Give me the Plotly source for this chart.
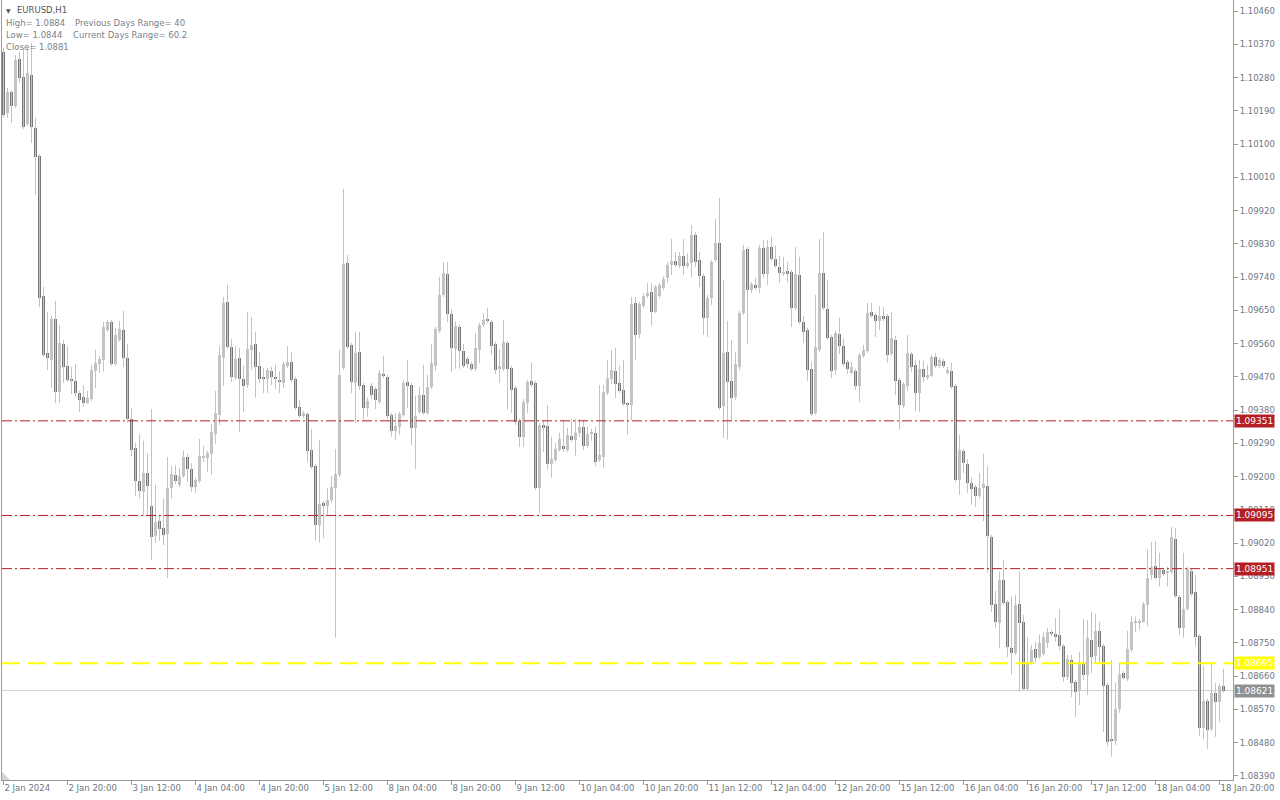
import plotly.graph_objects as go

# ---------------- data (EURUSD H1, bars from 2 Jan 2024 04:00) ----------------
open_ = [
1.10349,1.10184,1.10241,1.10203,1.10330,1.10282,1.10154,1.10287,1.10144,1.10068,
1.09689,1.09535,1.09516,1.09627,1.09429,1.09559,1.09500,1.09462,1.09459,1.09426,
1.09416,1.09400,1.09410,1.09486,1.09505,1.09516,1.09597,1.09619,1.09505,1.09570,
1.09597,1.09521,1.09356,1.09278,1.09188,1.09159,1.09210,1.09121,1.09040,1.09080,
1.09061,1.09045,1.09170,1.09205,1.09178,1.09202,1.09253,1.09221,1.09172,1.09188,
1.09253,1.09251,1.09262,1.09316,1.09367,1.09521,1.09673,1.09551,1.09467,1.09521,
1.09465,1.09448,1.09543,1.09559,1.09500,1.09467,1.09465,1.09486,1.09470,1.09462,
1.09454,1.09500,1.09511,1.09465,1.09389,1.09364,1.09370,1.09272,1.09229,1.09069,
1.09129,1.09121,1.09137,1.09170,1.09205,1.09494,1.09778,1.09556,1.09454,1.09538,
1.09448,1.09386,1.09446,1.09437,1.09402,1.09478,1.09470,1.09367,1.09324,1.09335,
1.09367,1.09456,1.09448,1.09332,1.09375,1.09421,1.09372,1.09443,1.09500,1.09595,
1.09692,1.09749,1.09640,1.09546,1.09605,1.09540,1.09519,1.09505,1.09492,1.09543,
1.09611,1.09627,1.09619,1.09559,1.09492,1.09492,1.09562,1.09494,1.09440,1.09351,
1.09308,1.09400,1.09459,1.09454,1.09170,1.09340,1.09337,1.09234,1.09245,1.09272,
1.09283,1.09272,1.09310,1.09300,1.09319,1.09335,1.09283,1.09316,1.09319,1.09245,
1.09253,1.09427,1.09465,1.09486,1.09454,1.09435,1.09397,1.09394,1.09670,1.09586,
1.09662,1.09689,1.09700,1.09646,1.09689,1.09711,1.09738,1.09773,1.09784,1.09770,
1.09797,1.09770,1.09778,1.09854,1.09786,1.09743,1.09630,1.09684,1.09786,1.09832,
1.09391,1.09538,1.09459,1.09416,1.09497,1.09643,1.09816,1.09705,1.09719,1.09711,
1.09819,1.09749,1.09822,1.09789,1.09768,1.09749,1.09757,1.09754,1.09657,1.09746,
1.09619,1.09597,1.09492,1.09372,1.09543,1.09751,1.09654,1.09578,1.09489,1.09586,
1.09554,1.09511,1.09481,1.09486,1.09446,1.09527,1.09540,1.09646,1.09638,1.09621,
1.09635,1.09635,1.09532,1.09570,1.09462,1.09391,1.09446,1.09532,1.09503,1.09426,
1.09492,1.09467,1.09473,1.09524,1.09500,1.09513,1.09481,1.09486,1.09446,1.09191,
1.09270,1.09234,1.09183,1.09172,1.09148,1.09170,1.09175,1.09037,1.08856,1.08805,
1.08921,1.08861,1.08737,1.08723,1.08856,1.08807,1.08626,1.08696,1.08734,1.08712,
1.08720,1.08750,1.08780,1.08774,1.08772,1.08742,1.08658,1.08704,1.08645,1.08623,
1.08696,1.08664,1.08758,1.08715,1.08783,1.08742,1.08637,1.08490,1.08485,1.08572,
1.08669,1.08653,1.08731,1.08805,1.08805,1.08807,1.08853,1.08934,1.08958,1.08926,
1.08948,1.08940,1.08942,1.09031,1.08875,1.08791,1.08842,1.08945,1.08888,1.08769,
1.08520,1.08593,1.08517,1.08615,1.08590,1.08634]

high = [
1.10360,1.10252,1.10247,1.10341,1.10349,1.10360,1.10363,1.10374,1.10171,1.10073,
1.09713,1.09646,1.09635,1.09676,1.09611,1.09570,1.09554,1.09497,1.09505,1.09432,
1.09448,1.09432,1.09502,1.09543,1.09527,1.09619,1.09624,1.09624,1.09603,1.09621,
1.09649,1.09559,1.09386,1.09291,1.09316,1.09297,1.09262,1.09383,1.09178,1.09097,
1.09142,1.09253,1.09229,1.09232,1.09224,1.09270,1.09262,1.09237,1.09197,1.09302,
1.09283,1.09270,1.09343,1.09432,1.09554,1.09686,1.09719,1.09573,1.09554,1.09548,
1.09500,1.09646,1.09632,1.09592,1.09538,1.09494,1.09494,1.09497,1.09503,1.09486,
1.09511,1.09554,1.09538,1.09470,1.09408,1.09378,1.09375,1.09329,1.09234,1.09299,
1.09134,1.09170,1.09202,1.09275,1.09543,1.09979,1.09800,1.09562,1.09592,1.09592,
1.09454,1.09413,1.09454,1.09443,1.09489,1.09527,1.09476,1.09372,1.09372,1.09375,
1.09462,1.09516,1.09454,1.09419,1.09443,1.09503,1.09476,1.09559,1.09605,1.09740,
1.09781,1.09781,1.09654,1.09621,1.09611,1.09559,1.09524,1.09511,1.09589,1.09616,
1.09643,1.09657,1.09624,1.09565,1.09546,1.09624,1.09567,1.09500,1.09446,1.09356,
1.09410,1.09462,1.09508,1.09459,1.09345,1.09353,1.09394,1.09308,1.09291,1.09319,
1.09353,1.09332,1.09356,1.09356,1.09356,1.09353,1.09335,1.09329,1.09335,1.09448,
1.09448,1.09516,1.09543,1.09549,1.09500,1.09516,1.09402,1.09686,1.09686,1.09673,
1.09697,1.09724,1.09724,1.09719,1.09724,1.09743,1.09781,1.09843,1.09808,1.09808,
1.09843,1.09805,1.09881,1.09862,1.09808,1.09749,1.09692,1.09786,1.09897,1.09954,
1.09732,1.09621,1.09570,1.09538,1.09649,1.09827,1.09822,1.09727,1.09738,1.09827,
1.09841,1.09841,1.09849,1.09824,1.09797,1.09795,1.09781,1.09759,1.09822,1.09795,
1.09635,1.09603,1.09511,1.09692,1.09843,1.09862,1.09732,1.09584,1.09595,1.09630,
1.09575,1.09516,1.09511,1.09492,1.09535,1.09557,1.09670,1.09670,1.09643,1.09662,
1.09659,1.09640,1.09646,1.09581,1.09467,1.09456,1.09584,1.09538,1.09516,1.09516,
1.09516,1.09503,1.09529,1.09535,1.09521,1.09519,1.09497,1.09508,1.09451,1.09313,
1.09275,1.09248,1.09197,1.09178,1.09210,1.09262,1.09229,1.09042,1.08891,1.08943,
1.08975,1.08866,1.08875,1.08880,1.08943,1.08826,1.08766,1.08745,1.08753,1.08772,
1.08780,1.08791,1.08785,1.08818,1.08842,1.08747,1.08718,1.08718,1.08650,1.08726,
1.08815,1.08812,1.08834,1.08829,1.08807,1.08747,1.08642,1.08704,1.08642,1.08696,
1.08674,1.08783,1.08823,1.08821,1.08815,1.08861,1.09004,1.09023,1.09026,1.08994,
1.08953,1.08956,1.09064,1.09061,1.08880,1.08994,1.08956,1.08953,1.08934,1.08774,
1.08688,1.08599,1.08696,1.08642,1.08639,1.08680]

low = [
1.10171,1.10171,1.10157,1.10198,1.10265,1.10141,1.10149,1.10103,1.09962,1.09659,
1.09524,1.09489,1.09440,1.09399,1.09399,1.09454,1.09456,1.09424,1.09416,1.09375,
1.09389,1.09397,1.09405,1.09440,1.09481,1.09484,1.09592,1.09500,1.09500,1.09565,
1.09497,1.09345,1.09256,1.09148,1.09142,1.09094,1.09094,1.08975,1.09021,1.09026,
1.09015,1.08926,1.09142,1.09180,1.09172,1.09197,1.09186,1.09159,1.09156,1.09183,
1.09240,1.09213,1.09205,1.09289,1.09340,1.09446,1.09546,1.09456,1.09462,1.09321,
1.09375,1.09440,1.09489,1.09413,1.09454,1.09426,1.09426,1.09448,1.09437,1.09426,
1.09440,1.09494,1.09456,1.09381,1.09359,1.09359,1.09240,1.09221,1.09026,1.09021,
1.09034,1.09097,1.09129,1.08764,1.09199,1.09489,1.09546,1.09426,1.09345,1.09435,
1.09353,1.09362,1.09410,1.09383,1.09397,1.09467,1.09356,1.09308,1.09299,1.09313,
1.09362,1.09386,1.09286,1.09221,1.09370,1.09367,1.09367,1.09437,1.09486,1.09589,
1.09686,1.09619,1.09484,1.09492,1.09492,1.09494,1.09494,1.09486,1.09486,1.09508,
1.09605,1.09616,1.09529,1.09478,1.09454,1.09486,1.09381,1.09372,1.09340,1.09280,
1.09280,1.09372,1.09443,1.09164,1.09102,1.09267,1.09218,1.09197,1.09240,1.09267,
1.09267,1.09267,1.09294,1.09256,1.09308,1.09272,1.09278,1.09297,1.09229,1.09240,
1.09224,1.09421,1.09451,1.09413,1.09426,1.09392,1.09313,1.09353,1.09516,1.09575,
1.09657,1.09684,1.09608,1.09643,1.09684,1.09705,1.09724,1.09746,1.09767,1.09765,
1.09746,1.09765,1.09740,1.09767,1.09713,1.09584,1.09578,1.09665,1.09781,1.09381,
1.09305,1.09300,1.09353,1.09408,1.09489,1.09638,1.09559,1.09697,1.09705,1.09697,
1.09738,1.09719,1.09784,1.09765,1.09724,1.09743,1.09727,1.09605,1.09651,1.09613,
1.09562,1.09459,1.09364,1.09367,1.09538,1.09651,1.09570,1.09467,1.09476,1.09532,
1.09497,1.09478,1.09478,1.09435,1.09402,1.09521,1.09535,1.09630,1.09578,1.09597,
1.09621,1.09508,1.09527,1.09421,1.09327,1.09386,1.09432,1.09484,1.09378,1.09375,
1.09456,1.09462,1.09470,1.09494,1.09494,1.09494,1.09476,1.09437,1.09186,1.09151,
1.09210,1.09156,1.09124,1.09118,1.09142,1.09080,1.08940,1.08834,1.08791,1.08735,
1.08853,1.08712,1.08664,1.08718,1.08618,1.08620,1.08620,1.08691,1.08696,1.08707,
1.08715,1.08737,1.08769,1.08753,1.08731,1.08645,1.08650,1.08604,1.08550,1.08582,
1.08650,1.08609,1.08669,1.08696,1.08696,1.08509,1.08471,1.08442,1.08474,1.08561,
1.08650,1.08647,1.08726,1.08780,1.08785,1.08805,1.08796,1.08921,1.08921,1.08902,
1.08931,1.08902,1.08937,1.08872,1.08772,1.08764,1.08837,1.08877,1.08742,1.08498,
1.08490,1.08463,1.08512,1.08496,1.08536,1.08615]

close = [
1.10179,1.10241,1.10203,1.10328,1.10279,1.10146,1.10292,1.10146,1.10065,1.09684,
1.09529,1.09521,1.09627,1.09429,1.09562,1.09497,1.09462,1.09459,1.09426,1.09408,
1.09400,1.09413,1.09489,1.09508,1.09519,1.09605,1.09619,1.09505,1.09584,1.09600,
1.09521,1.09356,1.09272,1.09188,1.09161,1.09210,1.09175,1.09037,1.09078,1.09059,
1.09043,1.09170,1.09207,1.09188,1.09202,1.09253,1.09221,1.09172,1.09191,1.09256,
1.09256,1.09264,1.09321,1.09372,1.09529,1.09670,1.09551,1.09470,1.09519,1.09465,
1.09446,1.09546,1.09557,1.09497,1.09465,1.09465,1.09489,1.09470,1.09465,1.09456,
1.09505,1.09511,1.09462,1.09386,1.09364,1.09372,1.09270,1.09226,1.09069,1.09126,
1.09121,1.09137,1.09172,1.09207,1.09476,1.09776,1.09551,1.09456,1.09535,1.09446,
1.09386,1.09405,1.09421,1.09408,1.09481,1.09473,1.09364,1.09324,1.09337,1.09370,
1.09454,1.09446,1.09332,1.09364,1.09421,1.09372,1.09443,1.09508,1.09600,1.09692,
1.09751,1.09640,1.09549,1.09608,1.09540,1.09500,1.09505,1.09492,1.09549,1.09611,
1.09624,1.09621,1.09554,1.09489,1.09500,1.09565,1.09492,1.09435,1.09348,1.09308,
1.09402,1.09456,1.09448,1.09170,1.09340,1.09332,1.09234,1.09248,1.09275,1.09302,
1.09275,1.09313,1.09300,1.09319,1.09335,1.09283,1.09316,1.09319,1.09240,1.09259,
1.09429,1.09467,1.09489,1.09451,1.09432,1.09397,1.09394,1.09667,1.09584,1.09667,
1.09689,1.09697,1.09646,1.09713,1.09719,1.09735,1.09773,1.09784,1.09773,1.09797,
1.09770,1.09778,1.09854,1.09781,1.09743,1.09630,1.09684,1.09781,1.09832,1.09386,
1.09535,1.09456,1.09413,1.09505,1.09643,1.09814,1.09705,1.09722,1.09711,1.09819,
1.09749,1.09822,1.09789,1.09770,1.09751,1.09751,1.09749,1.09657,1.09749,1.09619,
1.09592,1.09489,1.09370,1.09551,1.09751,1.09657,1.09575,1.09486,1.09589,1.09554,
1.09505,1.09492,1.09497,1.09446,1.09529,1.09543,1.09643,1.09635,1.09621,1.09635,
1.09627,1.09529,1.09575,1.09459,1.09394,1.09451,1.09535,1.09497,1.09426,1.09492,
1.09470,1.09476,1.09524,1.09500,1.09516,1.09500,1.09489,1.09443,1.09191,1.09272,
1.09237,1.09183,1.09167,1.09148,1.09170,1.09180,1.09040,1.08853,1.08807,1.08921,
1.08859,1.08739,1.08723,1.08853,1.08805,1.08626,1.08699,1.08731,1.08710,1.08750,
1.08766,1.08780,1.08774,1.08766,1.08742,1.08658,1.08707,1.08642,1.08617,1.08696,
1.08664,1.08764,1.08712,1.08783,1.08739,1.08634,1.08482,1.08485,1.08572,1.08666,
1.08655,1.08734,1.08807,1.08810,1.08807,1.08856,1.08926,1.08956,1.08926,1.08950,
1.08937,1.08945,1.09037,1.08877,1.08791,1.08842,1.08950,1.08883,1.08766,1.08520,
1.08593,1.08515,1.08615,1.08590,1.08634,1.08620]

tick_pos = [0, 16, 32, 48, 64, 80, 96, 112, 128, 144, 160, 176, 192, 208, 224, 240, 256, 272, 288, 304]
tick_text = ["2 Jan 2024", "2 Jan 20:00", "3 Jan 12:00", "4 Jan 04:00", "4 Jan 20:00",
             "5 Jan 12:00", "8 Jan 04:00", "8 Jan 20:00", "9 Jan 12:00", "10 Jan 04:00",
             "10 Jan 20:00", "11 Jan 12:00", "12 Jan 04:00", "12 Jan 20:00", "15 Jan 12:00",
             "16 Jan 04:00", "16 Jan 20:00", "17 Jan 12:00", "18 Jan 04:00", "18 Jan 20:00"]
price_ticks = [1.10460, 1.10370, 1.10280, 1.10190, 1.10100, 1.10010, 1.09920, 1.09830,
               1.09740, 1.09650, 1.09560, 1.09470, 1.09380, 1.09290, 1.09200, 1.09110,
               1.09020, 1.08930, 1.08840, 1.08750, 1.08660, 1.08570, 1.08480, 1.08390]
red_levels = [1.09351, 1.09095, 1.08951]
yellow_level = 1.08695
bid_price = 1.08621
info_left = ["High= 1.0884", "Low= 1.0844", "Close= 1.0881"]
info_right = ["Previous Days Range= 40", "Current Days Range= 60.2"]

# ---------------- styling ----------------
UP = "#c3c3c3"
DOWN = "#787878"
RED = "#b81f24"
FONT = "DejaVu Sans"
TXT = "#6e7684"

x = list(range(len(close)))
body_base = [min(o, c) for o, c in zip(open_, close)]
body_len = [max(abs(c - o), 0.00003) for o, c in zip(open_, close)]
body_col = [UP if c >= o else DOWN for o, c in zip(open_, close)]

fig = go.Figure()
fig.add_trace(go.Ohlc(
    x=x, open=open_, high=high, low=low, close=close, tickwidth=0,
    increasing=dict(line=dict(color=UP, width=1)),
    decreasing=dict(line=dict(color=UP, width=1)),
    hoverinfo="skip", showlegend=False))
fig.add_trace(go.Bar(
    x=x, y=body_len, base=body_base, width=0.75,
    marker=dict(color=body_col, line=dict(width=0)),
    hoverinfo="skip", showlegend=False))

shapes = []
for lv in red_levels:
    shapes.append(dict(type="line", xref="paper", x0=0, x1=1, yref="y", y0=lv, y1=lv,
                       line=dict(color=RED, width=1, dash="10px,3px,2px,3px"), layer="above"))
shapes.append(dict(type="line", xref="paper", x0=0, x1=1, yref="y", y0=yellow_level, y1=yellow_level,
                   line=dict(color="#ffff00", width=2, dash="18px,8px"), layer="above"))
shapes.append(dict(type="line", xref="paper", x0=0, x1=1, yref="y", y0=bid_price, y1=bid_price,
                   line=dict(color="#d0d0d0", width=1), layer="below"))
# small scroll marker in lower-left corner
shapes.append(dict(type="path", xref="paper", yref="paper",
                   path="M 0 0 L 0 0.0105 L 0.0066 0 Z",
                   fillcolor="#d4d4d4", line=dict(width=0), layer="above"))

ann = []
def price_box(v, bg):
    ann.append(dict(xref="paper", x=1, xanchor="left", xshift=1, yref="y", y=v, yanchor="middle",
                    text=f"{v:.5f}", showarrow=False, bgcolor=bg, borderpad=1,
                    font=dict(family=FONT, size=9, color="white")))
for lv in red_levels:
    price_box(lv, "#b51f24")
price_box(yellow_level, "#ffff00")
price_box(bid_price, "#8f9093")

# top-left info text
ann.append(dict(xref="paper", x=0, xanchor="left", xshift=2, yref="paper", y=1, yanchor="middle",
                yshift=-10, text="▼", showarrow=False, font=dict(family=FONT, size=6, color="#555555")))
ann.append(dict(xref="paper", x=0, xanchor="left", xshift=13, yref="paper", y=1, yanchor="middle",
                yshift=-10, text="EURUSD,H1", showarrow=False, font=dict(family=FONT, size=8.5, color="#555555")))
for k, t in enumerate(info_left):
    ann.append(dict(xref="paper", x=0, xanchor="left", xshift=2, yref="paper", y=1, yanchor="middle",
                    yshift=-23 - 12 * k, text=t, showarrow=False,
                    font=dict(family=FONT, size=8.5, color="#7a7f88")))
for k, t in enumerate(info_right):
    ann.append(dict(xref="paper", x=0, xanchor="left", xshift=71 - 2 * k, yref="paper", y=1, yanchor="middle",
                    yshift=-23 - 12 * k, text=t, showarrow=False,
                    font=dict(family=FONT, size=8.5, color="#7a7f88")))

fig.update_layout(
    width=1280, height=800,
    margin=dict(l=2, r=47, t=0, b=20, autoexpand=False),
    paper_bgcolor="white", plot_bgcolor="white",
    font=dict(family=FONT, size=8.5, color=TXT),
    bargap=0, shapes=shapes, annotations=ann, showlegend=False,
    xaxis=dict(range=[-0.375, 307.375], tickvals=tick_pos, ticktext=tick_text,
               ticks="outside", ticklen=4, tickcolor="#9a9a9a", showline=True,
               linecolor="#9a9a9a", linewidth=1, showgrid=False, zeroline=False,
               ticklabelposition="outside right", rangeslider=dict(visible=False),
               automargin=False,
               tickfont=dict(family=FONT, size=8.5, color=TXT), fixedrange=True),
    yaxis=dict(range=[1.08379, 1.10490], side="right", tickvals=price_ticks, tickformat=".5f",
               ticks="outside", ticklen=4, tickcolor="#9a9a9a", showline=True, mirror=True,
               linecolor="#9a9a9a", linewidth=1, showgrid=False, zeroline=False,
               automargin=False,
               tickfont=dict(family=FONT, size=8.5, color=TXT), fixedrange=True),
)

fig.write_html(
    "out.html",
    config={"displayModeBar": False},
    post_script="document.body.style.margin='0';document.body.style.overflow='hidden';",
)
